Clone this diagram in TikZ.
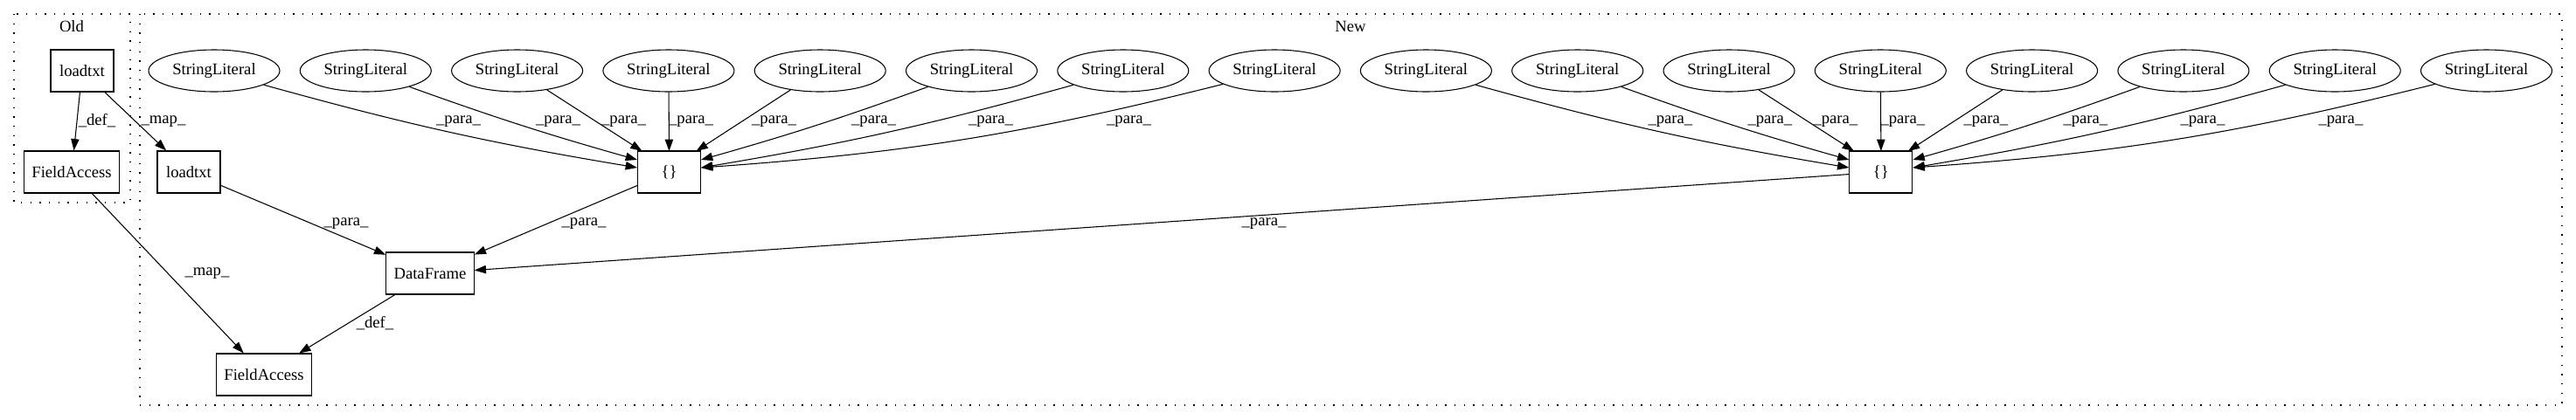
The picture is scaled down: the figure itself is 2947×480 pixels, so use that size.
\documentclass[tikz,border=0pt]{standalone}
\usepackage{fontspec}
\setmainfont{Liberation Serif}
\usetikzlibrary{arrows.meta,shapes.geometric,calc}

\tikzset{
  txt/.style={font=\fontsize{14}{16}\selectfont},
  box/.style={txt, draw, line width=0.8pt, rectangle, minimum height=36pt, minimum width=54pt, inner xsep=6.5pt},
  lit/.style={txt, draw, line width=0.8pt, ellipse, minimum width=112.5pt, minimum height=36pt, inner sep=0pt},
  edge/.style={line width=0.8pt, -{Triangle[length=10pt,width=7pt]}},
  lbl/.style={txt, inner sep=1pt},
  cluster/.style={line width=1pt, dash pattern=on 1pt off 7pt},
}

\begin{document}
\begin{tikzpicture}[x=0.75pt,y=-0.75pt]
\useasboundingbox (0,0) rectangle (2947,480);
\draw[cluster] (16,16) rectangle (149,232);
\draw[cluster] (160,16) rectangle (2931,464);
\node (oldlbl) at (82,30) [txt] {Old};
\node (newlbl) at (1545,30) [txt] {New};

% Old
\node (oldload) at (94,81) [box] {loadtxt};
\node (oldfa) at (82,197) [box] {FieldAccess};

% New
\node (newload) at (216,197) [box] {loadtxt};
\node (frame) at (492,313) [box] {DataFrame};
\node (newfa) at (302,429) [box] {FieldAccess};

\foreach \g in {0,1} {
  \pgfmathsetmacro{\bx}{765.5+1386.4*\g}
  \node (br\g) at (\bx,197) [box] {\{\}};
  \foreach \k/\dx/\dy/\b/\lx in {0/-36.5/-5/-3/-241, 1/-36.5/-14/-2/-127, 2/-31/-24/0/-52, 3/0/-24/0/25, 4/31/-24/0/120, 5/36.5/-14/2/234, 6/36.5/-5/3/368, 7/36.5/-5/5/526} {
    \pgfmathsetmacro{\sx}{245+173.3*(8*\g+\k)}
    \pgfmathsetmacro{\lpx}{\bx+\lx}
    \node (sl\g\k) at (\sx,81) [lit] {StringLiteral};
    \coordinate (tip\g\k) at ($(br\g.center)+(\dx,\dy)$);
    \draw[edge] (sl\g\k) to[bend left=\b] (tip\g\k);
    \node (lp\g\k) at (\lpx,139) [lbl] {\_para\_};
  }
}

\draw[edge] (oldload) -- (oldfa);
\draw[edge] (oldload) -- (newload);
\draw[edge] (oldfa) -- (newfa);
\draw[edge] (newload) -- (frame);
\draw[edge] (br0) -- (frame);
\draw[edge] (br1) -- (frame);
\draw[edge] (frame) -- (newfa);

\node (ldef) at (111,138) [lbl] {\_def\_};
\node (lmap) at (187,139) [lbl] {\_map\_};
\node (lpload) at (396,256) [lbl] {\_para\_};
\node (lmapfa) at (237,313) [lbl] {\_map\_};
\node (ldeffa) at (429,370) [lbl] {\_def\_};
\node (lpbr0) at (668,256) [lbl] {\_para\_};
\node (lpbr1) at (1446,256) [lbl] {\_para\_};
\end{tikzpicture}
\end{document}
